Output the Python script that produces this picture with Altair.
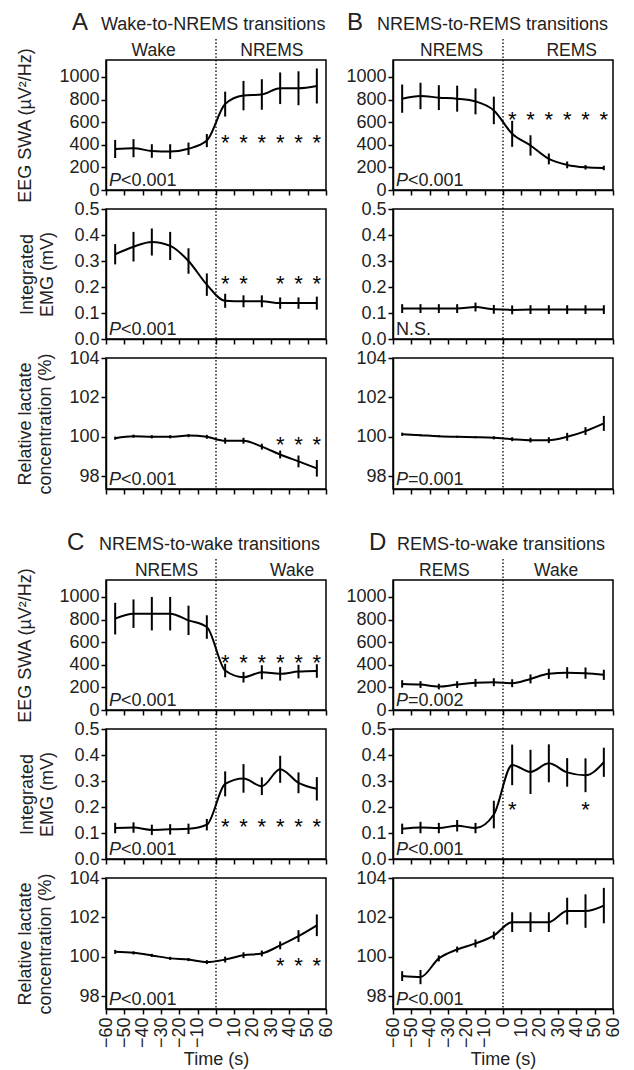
import altair as alt
import pandas as pd

FONT = "Liberation Sans"

# ---------------- data ----------------
X = [-55, -45, -35, -25, -15, -5, 5, 15, 25, 35, 45, 55]
X_TICKS = [-60, -50, -40, -30, -20, -10, 0, 10, 20, 30, 40, 50, 60]

A_SWA = [363, 370, 345, 340, 365, 437, 760, 835, 845, 900, 900, 920]
A_SWA_E = [80, 80, 60, 65, 55, 58, 110, 130, 135, 140, 150, 155]
B_SWA = [808, 832, 817, 808, 784, 704, 497, 394, 275, 222, 201, 195]
B_SWA_E = [125, 117, 110, 115, 115, 122, 115, 90, 48, 30, 20, 20]
C_SWA = [808, 852, 852, 852, 793, 734, 349, 290, 334, 320, 340, 345]
C_SWA_E = [140, 126, 148, 148, 130, 104, 60, 47, 62, 60, 60, 60]
D_SWA = [231, 225, 207, 225, 240, 246, 237, 275, 320, 329, 326, 311]
D_SWA_E = [33, 30, 25, 30, 35, 35, 35, 40, 45, 50, 50, 45]

A_EMG = [0.326, 0.355, 0.373, 0.358, 0.300, 0.209, 0.147, 0.145, 0.145, 0.138, 0.138, 0.138]
A_EMG_E = [0.039, 0.057, 0.052, 0.054, 0.049, 0.043, 0.027, 0.023, 0.023, 0.022, 0.022, 0.025]
B_EMG = [0.117, 0.117, 0.117, 0.117, 0.123, 0.114, 0.112, 0.113, 0.113, 0.113, 0.113, 0.113]
B_EMG_E = [0.017, 0.017, 0.017, 0.017, 0.017, 0.017, 0.017, 0.017, 0.017, 0.017, 0.017, 0.017]
C_EMG = [0.119, 0.121, 0.112, 0.114, 0.116, 0.132, 0.289, 0.310, 0.280, 0.345, 0.293, 0.270]
C_EMG_E = [0.02, 0.02, 0.02, 0.02, 0.02, 0.022, 0.048, 0.055, 0.034, 0.052, 0.04, 0.045]
D_EMG = [0.116, 0.121, 0.119, 0.128, 0.119, 0.171, 0.362, 0.335, 0.368, 0.333, 0.322, 0.372]
D_EMG_E = [0.02, 0.022, 0.02, 0.022, 0.02, 0.053, 0.078, 0.085, 0.073, 0.055, 0.065, 0.056]

A_LAC = [99.93, 100.03, 100.0, 100.0, 100.06, 100.0, 99.8, 99.8, 99.5, 99.1, 98.75, 98.4]
A_LAC_E = [0.08, 0.08, 0.08, 0.08, 0.08, 0.1, 0.15, 0.15, 0.15, 0.2, 0.3, 0.42]
B_LAC = [100.13, 100.08, 100.03, 100.0, 99.98, 99.95, 99.88, 99.83, 99.83, 100.0, 100.29, 100.68]
B_LAC_E = [0.08, 0.05, 0.05, 0.05, 0.05, 0.08, 0.1, 0.12, 0.15, 0.2, 0.2, 0.38]
C_LAC = [100.25, 100.2, 100.07, 99.92, 99.86, 99.73, 99.86, 100.08, 100.17, 100.58, 101.05, 101.6]
C_LAC_E = [0.1, 0.08, 0.08, 0.08, 0.08, 0.1, 0.15, 0.15, 0.15, 0.2, 0.3, 0.55]
D_LAC = [99.02, 98.97, 99.92, 100.37, 100.68, 101.08, 101.76, 101.76, 101.76, 102.32, 102.32, 102.6]
D_LAC_E = [0.25, 0.36, 0.15, 0.15, 0.2, 0.2, 0.5, 0.5, 0.5, 0.68, 0.85, 0.9]

# significance asterisks (x positions, y level)
A_SWA_STARS = [5, 15, 25, 35, 45, 55]
B_SWA_STARS = [5, 15, 25, 35, 45, 55]
C_SWA_STARS = [5, 15, 25, 35, 45, 55]
A_EMG_STARS = [5, 15, 35, 45, 55]
C_EMG_STARS = [5, 15, 25, 35, 45, 55]
D_EMG_STARS = [5, 45]
A_LAC_STARS = [35, 45, 55]
C_LAC_STARS = [35, 45, 55]
STAR_Y = {"A_SWA": 470, "B_SWA": 675, "C_SWA": 468, "A_EMG": 0.235,
          "C_EMG": 0.145, "D_EMG": 0.212, "A_LAC": 99.9, "C_LAC": 99.83}

PANEL_LETTERS = ["A", "B", "C", "D"]
PANEL_TITLES = ["Wake-to-NREMS transitions", "NREMS-to-REMS transitions",
                "NREMS-to-wake transitions", "REMS-to-wake transitions"]
HEADERS = {"A": (["Wake", "NREMS"], [-34, 30.5]),
           "B": (["NREMS", "REMS"], [-28, 37.5]),
           "C": (["NREMS", "Wake"], [-27, 41.5]),
           "D": (["REMS", "Wake"], [-32, 29])}
PTEXT = {"A": ["<0.001", "<0.001", "<0.001"],
         "B": ["<0.001", None, "=0.001"],
         "C": ["<0.001", "<0.001", "<0.001"],
         "D": ["=0.002", "<0.001", "<0.001"]}

Y_DOMAINS = {"SWA": [0, 1150], "EMG": [0, 0.5], "LAC": [97.35, 104]}
Y_TICKS = {"SWA": [0, 200, 400, 600, 800, 1000],
           "EMG": [0, 0.1, 0.2, 0.3, 0.4, 0.5],
           "LAC": [98, 100, 102, 104]}
Y_FMT = {"SWA": "d", "EMG": ".1f", "LAC": "d"}
Y_TITLES = {"SWA": "EEG SWA (µV²/Hz)", "EMG": ["Integrated", "EMG (mV)"],
            "LAC": ["Relative lactate", "concentration (%)"]}
Y_TITLE_PAD = {"SWA": 24, "EMG": 17, "LAC": 14}

SERIES = {
    ("A", "SWA"): (A_SWA, A_SWA_E, A_SWA_STARS), ("B", "SWA"): (B_SWA, B_SWA_E, B_SWA_STARS),
    ("C", "SWA"): (C_SWA, C_SWA_E, C_SWA_STARS), ("D", "SWA"): (D_SWA, D_SWA_E, []),
    ("A", "EMG"): (A_EMG, A_EMG_E, A_EMG_STARS), ("B", "EMG"): (B_EMG, B_EMG_E, []),
    ("C", "EMG"): (C_EMG, C_EMG_E, C_EMG_STARS), ("D", "EMG"): (D_EMG, D_EMG_E, D_EMG_STARS),
    ("A", "LAC"): (A_LAC, A_LAC_E, A_LAC_STARS), ("B", "LAC"): (B_LAC, B_LAC_E, []),
    ("C", "LAC"): (C_LAC, C_LAC_E, C_LAC_STARS), ("D", "LAC"): (D_LAC, D_LAC_E, []),
}

W = 220
H = {"SWA": 130, "EMG": 130, "LAC": 131}
TITLE_OFFS = {"A": (-34, -5), "B": (-46, -16), "C": (-39, -7), "D": (-24, 4)}
INK = "#222"
TXT = 18


def one(s):
    return alt.Chart(pd.DataFrame({"s": [s]}))


def sub(panel, kind):
    vals, errs, stars = SERIES[(panel, kind)]
    left = panel in ("A", "C")
    bottom = kind == "LAC" and panel in ("C", "D")
    top = kind == "SWA"
    h = H[kind]
    df = pd.DataFrame({"t": X, "v": vals,
                       "lo": [v - e for v, e in zip(vals, errs)],
                       "hi": [v + e for v, e in zip(vals, errs)]})
    if bottom:
        xax = alt.Axis(values=X_TICKS, labels=True, title="Time (s)",
                       labelAngle=270, labelPadding=3, titlePadding=3,
                       labelFlush=False, labelOverlap=False)
    else:
        xax = alt.Axis(values=X_TICKS, labels=False, title=None)
    xs = alt.Scale(domain=[-60, 60], nice=False, zero=False)
    if left:
        yax = alt.Axis(values=Y_TICKS[kind], format=Y_FMT[kind], title=Y_TITLES[kind],
                       titlePadding=Y_TITLE_PAD[kind], labelFlush=False, labelOverlap=False)
    else:
        yax = alt.Axis(values=Y_TICKS[kind], format=Y_FMT[kind], title=None,
                       labelFlush=False, labelOverlap=False)
    ys = alt.Scale(domain=Y_DOMAINS[kind], nice=False, zero=False)

    base = alt.Chart(df)
    line = base.mark_line(color="black", strokeWidth=2, interpolate="monotone").encode(
        x=alt.X("t:Q", scale=xs, axis=xax), y=alt.Y("v:Q", scale=ys, axis=yax))
    bars = base.mark_rule(color="black", strokeWidth=2).encode(
        x=alt.X("t:Q", scale=xs, axis=xax), y=alt.Y("lo:Q", scale=ys, axis=yax), y2="hi:Q")
    layers = [line, bars]

    if stars:
        sdf = pd.DataFrame({"t": stars, "y": [STAR_Y[f"{panel}_{kind}"]] * len(stars),
                            "s": ["*"] * len(stars)})
        layers.append(alt.Chart(sdf).mark_text(font=FONT, fontSize=22, baseline="middle", dy=6,
                                               color="black").encode(
            x=alt.X("t:Q", scale=xs, axis=xax), y=alt.Y("y:Q", scale=ys, axis=yax), text="s:N"))

    # dotted transition line
    rdf = pd.DataFrame({"t": [0]})
    layers.append(alt.Chart(rdf).mark_rule(color="black", strokeWidth=1.3, strokeDash=[1.5, 2]).encode(
        x=alt.X("t:Q", scale=xs, axis=xax), y=alt.value(-21 if top else -19), y2=alt.value(h)))

    # P value text
    pt = PTEXT[panel][["SWA", "EMG", "LAC"].index(kind)]
    if pt is None:
        layers.append(one("N.S.").mark_text(font=FONT, fontSize=TXT, align="left", baseline="alphabetic",
                                             color=INK).encode(text="s:N", x=alt.value(3), y=alt.value(h - 4)))
    else:
        layers.append(one("P").mark_text(font=FONT, fontSize=TXT, fontStyle="italic", align="left",
                                          baseline="alphabetic", color=INK).encode(
            text="s:N", x=alt.value(3), y=alt.value(h - 4)))
        layers.append(one(pt).mark_text(font=FONT, fontSize=TXT, align="left", baseline="alphabetic",
                                         color=INK).encode(text="s:N", x=alt.value(15), y=alt.value(h - 4)))

    if top:
        names, pos = HEADERS[panel]
        hdf = pd.DataFrame({"t": pos, "s": names})
        layers.append(alt.Chart(hdf).mark_text(font=FONT, fontSize=17.5, baseline="alphabetic",
                                               color=INK).encode(
            x=alt.X("t:Q", scale=xs, axis=xax), y=alt.value(-4), text="s:N"))
        lo, to = TITLE_OFFS[panel]
        i = PANEL_LETTERS.index(panel)
        layers.append(one(panel).mark_text(font=FONT, fontSize=24, align="left", baseline="alphabetic",
                                           color=INK).encode(text="s:N", x=alt.value(lo), y=alt.value(-30)))
        layers.append(one(PANEL_TITLES[i]).mark_text(font=FONT, fontSize=18, align="left",
                                                     baseline="alphabetic", color=INK).encode(
            text="s:N", x=alt.value(to), y=alt.value(-30)))

    return alt.layer(*layers).properties(width=W, height=h)


def spacer():
    return alt.Chart(pd.DataFrame({"a": [0]})).mark_point(opacity=0).encode(
        x=alt.value(0), y=alt.value(0)
    ).properties(width=W, height=53, view=alt.ViewBackground(stroke="transparent"))


cells = []
for (p1, p2) in (("A", "B"), ("C", "D")):
    for kind in ("SWA", "EMG", "LAC"):
        cells += [sub(p1, kind), sub(p2, kind)]
    if p1 == "A":
        cells += [spacer(), spacer()]

chart = alt.concat(*cells, columns=2, spacing={"row": 19, "column": 67},
                   bounds="flush", align="each").properties(
    padding={"left": 8, "top": 2, "right": 0, "bottom": 0}
).configure_view(stroke="black", strokeWidth=1.5).configure_axis(
    domainColor="black", domainWidth=1.5, tickColor="black", tickWidth=1.5, tickSize=5,
    labelFont=FONT, labelFontSize=18, labelColor=INK, labelPadding=2, labelOverlap=False,
    titleFont=FONT, titleFontSize=18, titleLineHeight=20,
    titleColor=INK, titleFontWeight="normal", grid=False
)

chart.save("out.html", embed_options={"renderer": "svg", "actions": False})
